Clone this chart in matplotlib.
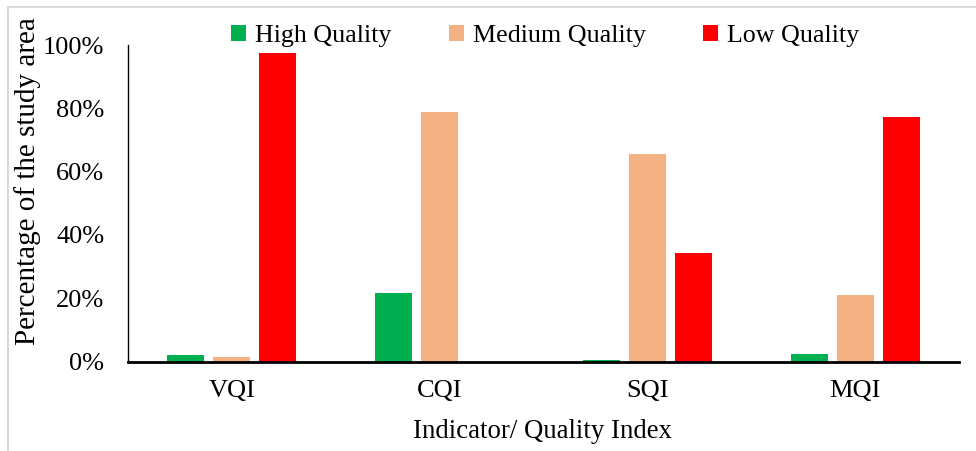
import numpy as np
import matplotlib.pyplot as plt
from matplotlib.patches import Patch, Rectangle

plt.rcParams['font.family'] = ['Liberation Serif', 'DejaVu Serif']

# Share of the study area per quality class (%)
indices = ["VQI", "CQI", "SQI", "MQI"]
high_quality = [2.0, 21.6, 0.5, 2.5]
medium_quality = [1.5, 78.7, 65.5, 21.0]
low_quality = [97.4, 0.0, 34.3, 77.2]

series = [
    ("High Quality", high_quality, "#00B050"),
    ("Medium Quality", medium_quality, "#F4B183"),
    ("Low Quality", low_quality, "#FF0000"),
]

W, H = 976, 451
fig = plt.figure(figsize=(W / 100, H / 100), dpi=100)
ax = fig.add_axes([128 / W, 1 - 361.5 / H, (959 - 128) / W, (361.5 - 45) / H])

x = np.arange(len(indices))
width = 0.178
step = 0.2215
for i, (name, vals, color) in enumerate(series):
    ax.bar(x + (i - 1) * step, vals, width, color=color, label=name,
           edgecolor="none")

ax.set_xlim(-0.5, len(indices) - 0.5)
ax.set_ylim(0, 100)
ax.set_yticks(np.arange(0, 101, 20))
ax.set_yticklabels([f"{v}%" for v in range(0, 101, 20)])
ax.set_xticks(x)
ax.set_xticklabels(indices)
ax.tick_params(axis="y", length=0, pad=17, labelsize=19)
ax.tick_params(axis="x", length=0, pad=13, labelsize=19)

for side in ("top", "right"):
    ax.spines[side].set_visible(False)
ax.spines["left"].set_linewidth(1.0)
ax.spines["bottom"].set_linewidth(2.0)

fig.text(28 / W, 1 - 181 / H, "Percentage of the study area", rotation=90,
         ha="center", va="center", fontsize=21)
fig.text(542 / W, 1 - 432 / H, "Indicator/ Quality Index",
         ha="center", va="center", fontsize=19.3)

handles = [Patch(facecolor=c, label=n) for n, _, c in series]
fig.legend(handles=handles, loc="center", ncol=3,
           bbox_to_anchor=(545 / W, 1 - 36 / H), frameon=False, fontsize=18.7,
           handlelength=0.58, handleheight=0.58, handletextpad=0.35,
           columnspacing=2.2, borderpad=0)

# thin grey frame around the chart area
fig.add_artist(Rectangle((8 / W, -0.05), 1.2, 1 - 7 / H + 0.05,
                         transform=fig.transFigure, fill=False,
                         edgecolor="#D9D9D9", linewidth=1.5))

fig.savefig("out.png", dpi=100)
